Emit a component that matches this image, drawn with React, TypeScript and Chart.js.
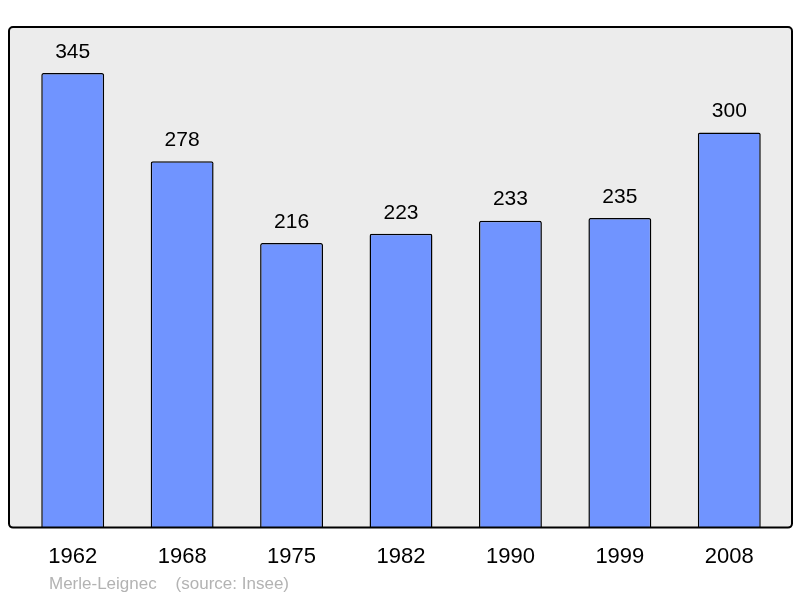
import React, { useEffect, useRef } from 'react';
import { Chart, registerables } from 'chart.js';

Chart.register(...registerables);

// Population by census year
const years = ['1962', '1968', '1975', '1982', '1990', '1999', '2008'];
const population = [345, 278, 216, 223, 233, 235, 300];

const FONT = '"Liberation Sans", Arial, sans-serif';

// Grey rounded frame behind the bars, outline drawn over them
const frame = {
  id: 'frame',
  beforeDatasetsDraw(chart: Chart) {
    const { ctx, chartArea } = chart;
    ctx.save();
    ctx.beginPath();
    ctx.roundRect(chartArea.left - 9, chartArea.top, chartArea.right - chartArea.left + 17, chartArea.bottom - chartArea.top, 4);
    ctx.fillStyle = '#ececec';
    ctx.fill();
    ctx.restore();
  },
  afterDatasetsDraw(chart: Chart) {
    const { ctx, chartArea } = chart;
    ctx.save();
    // value labels
    const meta = chart.getDatasetMeta(0);
    ctx.font = `21px ${FONT}`;
    ctx.fillStyle = '#000';
    ctx.textAlign = 'center';
    ctx.textBaseline = 'middle';
    meta.data.forEach((bar: any, i: number) => {
      ctx.fillText(String(population[i]), bar.x, bar.y - 21);
    });
    // outline
    ctx.beginPath();
    ctx.roundRect(chartArea.left - 9, chartArea.top, chartArea.right - chartArea.left + 17, chartArea.bottom - chartArea.top, 4);
    ctx.lineWidth = 2;
    ctx.strokeStyle = '#000';
    ctx.stroke();
    // footer
    ctx.font = `17px ${FONT}`;
    ctx.fillStyle = '#b3b3b3';
    ctx.textAlign = 'left';
    ctx.fillText('Merle-Leignec    (source: Insee)', 49, 584);
    ctx.restore();
  },
};

export default function App() {
  const canvasRef = useRef<HTMLCanvasElement>(null);

  useEffect(() => {
    if (!canvasRef.current) return;
    const chart = new Chart(canvasRef.current, {
      type: 'bar',
      data: {
        labels: years,
        datasets: [{
          data: population,
          backgroundColor: '#7094ff',
          borderColor: '#000',
          borderWidth: 1.5,
          borderRadius: 2,
          borderSkipped: 'start',
          categoryPercentage: 1,
          barPercentage: 0.575,
        }],
      },
      options: {
        responsive: true,
        maintainAspectRatio: false,
        animation: false,
        layout: { padding: { top: 27, left: 18, right: 16, bottom: 12 } },
        plugins: {
          legend: { display: false },
          tooltip: { enabled: false },
        },
        scales: {
          x: {
            grid: { display: false, drawTicks: false },
            border: { display: false },
            ticks: { color: '#000', padding: 16, font: { family: FONT, size: 22 } },
          },
          y: {
            display: false,
            min: 0,
            max: 380,
          },
        },
      },
      plugins: [frame],
    });
    return () => chart.destroy();
  }, []);

  return (
    <div style={{ position: 'fixed', left: 0, top: 0, width: 800, height: 598, background: '#fff' }}>
      <canvas ref={canvasRef}></canvas>
    </div>
  );
}
